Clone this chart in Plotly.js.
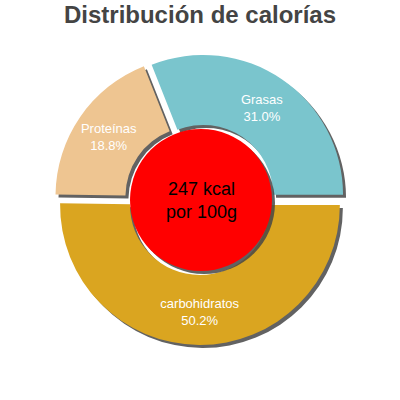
<!DOCTYPE html>
<html>
<head>
<meta charset="utf-8">
<script src="https://cdn.plot.ly/plotly-3.0.1.min.js"></script>
<style>html,body{margin:0;padding:0;background:#fff;}#chart{width:400px;height:400px;}</style>
</head>
<body>
<div id="chart"></div>
<script>
// Data
const titleText = "Distribución de calorías";
const categories = ["Grasas", "carbohidratos", "Proteínas"];
const shares = [31.0, 50.2, 18.8];
const sliceColors = ["#7AC5CD", "#DAA520", "#EEC591"];
const kcal = 247;
const perText = "por 100g";

const FONT = "Liberation Sans, Arial, Helvetica, sans-serif";
const shadowColor = "rgba(70,70,70,0.85)";

// pie geometry (paper fractions)
const pieDom = {x: [0.1, 0.9], y: [0.1375, 0.865]};
const shiftX = 3 / 400, shiftY = 3 / 400;
const holeDom = {x: [0.325, 0.68], y: [0.3225, 0.6775]};
const pulls = [0.04, 0.04, 0.04];

const labelTexts = categories.map((c, i) => c + "<br>" + shares[i].toFixed(1) + "%");
const ringA = labelTexts.map((t, i) => i === 1 ? "" : t);   // labels for the narrower slices
const ringB = labelTexts.map((t, i) => i === 1 ? t : "");   // label for the big slice

const common = {type: "pie", values: shares, labels: categories, sort: false,
  direction: "clockwise", rotation: -21.6, pull: pulls, showlegend: false};
const transparent = categories.map(() => "rgba(0,0,0,0)");
const labelFont = {color: "#ffffff", size: 13, family: FONT};

const traces = [
  Object.assign({}, common, { // shadow of slices
    hole: 0.5,
    marker: {colors: categories.map(() => shadowColor), line: {width: 0}},
    textinfo: "none", hoverinfo: "skip",
    domain: {x: [pieDom.x[0] + shiftX, pieDom.x[1] + shiftX], y: [pieDom.y[0] - shiftY, pieDom.y[1] - shiftY]}
  }),
  Object.assign({}, common, { // slices
    hole: 0.5,
    marker: {colors: sliceColors, line: {width: 0}},
    textinfo: "none", hoverinfo: "label+percent",
    domain: pieDom
  }),
  Object.assign({}, common, { // labels ring A
    hole: 0.5,
    marker: {colors: transparent, line: {width: 0}},
    text: ringA, textinfo: "text",
    textposition: "inside", insidetextorientation: "horizontal",
    insidetextfont: labelFont, hoverinfo: "skip",
    domain: pieDom
  }),
  Object.assign({}, common, { // labels ring B
    hole: 0.6,
    marker: {colors: transparent, line: {width: 0}},
    text: ringB, textinfo: "text",
    textposition: "inside", insidetextorientation: "horizontal",
    insidetextfont: labelFont, hoverinfo: "skip",
    domain: pieDom
  }),
  { // shadow of the centre disc
    type: "pie", values: [kcal], labels: ["kcal"], sort: false,
    marker: {colors: [shadowColor], line: {width: 0}},
    textinfo: "none", hoverinfo: "skip", showlegend: false,
    domain: {x: [holeDom.x[0] + shiftX, holeDom.x[1] + shiftX], y: [holeDom.y[0] - shiftY, holeDom.y[1] - shiftY]}
  },
  { // centre disc
    type: "pie", values: [kcal], labels: ["kcal"], sort: false,
    marker: {colors: ["#FF0000"], line: {width: 0}},
    textinfo: "none", hoverinfo: "skip", showlegend: false,
    domain: holeDom
  }
];

const layout = {
  width: 400, height: 400,
  margin: {l: 0, r: 0, t: 0, b: 0},
  paper_bgcolor: "#ffffff",
  showlegend: false,
  font: {family: FONT},
  title: {
    text: "<b>" + titleText + "</b>",
    font: {family: FONT, size: 24, color: "#444444"},
    x: 0.5, xanchor: "center", xref: "paper",
    y: 0.985, yanchor: "top", yref: "container"
  },
  annotations: [{
    text: kcal + " kcal<br>" + perText,
    x: (holeDom.x[0] + holeDom.x[1]) / 2, y: (holeDom.y[0] + holeDom.y[1]) / 2,
    xref: "paper", yref: "paper", xanchor: "center", yanchor: "middle",
    showarrow: false, font: {family: FONT, size: 18, color: "#000000"}
  }]
};

Plotly.newPlot("chart", traces, layout, {displayModeBar: false, staticPlot: true});
</script>
</body>
</html>
